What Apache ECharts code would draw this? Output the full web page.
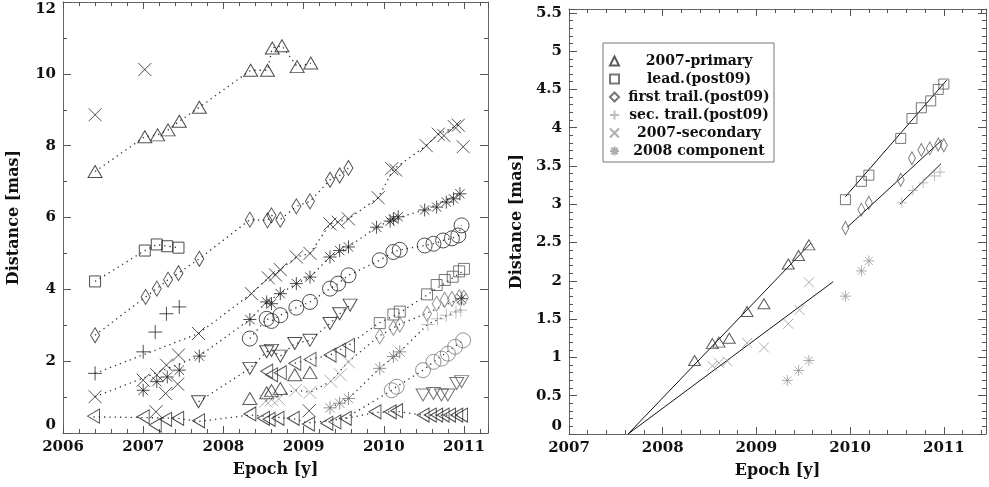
<!DOCTYPE html>
<html><head><meta charset="utf-8">
<script src="https://cdn.jsdelivr.net/npm/echarts@6/dist/echarts.min.js"></script>
<style>html,body{margin:0;padding:0;background:#fff}#c{width:989px;height:487px}</style>
</head><body><div id="c"></div>
<script>
// ---------- Right panel data (epoch [y], distance [mas]) ----------
const rPrimary   = [[2008.34,0.96],[2008.53,1.18],[2008.60,1.20],[2008.71,1.25],[2008.90,1.60],[2009.08,1.70],[2009.34,2.22],[2009.45,2.33],[2009.56,2.47]];
const rLead      = [[2009.95,3.06],[2010.12,3.30],[2010.20,3.38],[2010.54,3.86],[2010.66,4.12],[2010.76,4.26],[2010.86,4.35],[2010.94,4.50],[2011.00,4.57]];
const rFirst     = [[2009.95,2.69],[2010.12,2.93],[2010.20,3.02],[2010.54,3.32],[2010.66,3.60],[2010.76,3.71],[2010.85,3.73],[2010.94,3.78],[2011.00,3.77]];
const rSec       = [[2010.55,3.02],[2010.67,3.18],[2010.78,3.28],[2010.90,3.37],[2010.96,3.42]];
const rSecondary = [[2008.53,0.89],[2008.60,0.93],[2008.69,0.95],[2008.90,1.19],[2009.08,1.13],[2009.34,1.44],[2009.46,1.62],[2009.56,1.98]];
const r2008      = [[2009.33,0.70],[2009.45,0.83],[2009.56,0.96],[2009.95,1.80],[2010.12,2.13],[2010.20,2.26]];
// fitted lines (right panel)
const fitPrimary   = [[2007.63,0],[2009.58,2.49]];
const fitSecondary = [[2007.63,0],[2009.82,1.99]];
const fitLead      = [[2009.95,3.10],[2011.03,4.62]];
const fitFirst     = [[2009.97,2.70],[2010.98,3.84]];
const fitSec       = [[2010.53,3.00],[2010.97,3.53]];

// ---------- Left panel data ----------
const lTriTop   = [[2006.40,7.28],[2007.02,8.25],[2007.18,8.30],[2007.31,8.44],[2007.45,8.68],[2007.70,9.07],[2008.34,10.10],[2008.55,10.10],[2008.61,10.72],[2008.73,10.78],[2008.92,10.20],[2009.09,10.30]];
const lCrossTop = [[2006.40,8.86],[2007.02,10.12]];
const lSqEarly  = [[2006.40,4.22],[2007.02,5.08],[2007.17,5.25],[2007.30,5.20],[2007.44,5.16]];
const lDia      = [[2006.40,2.72],[2007.03,3.79],[2007.17,4.02],[2007.31,4.27],[2007.44,4.45],[2007.70,4.85],[2008.33,5.94],[2008.55,5.92],[2008.60,6.06],[2008.71,5.94],[2008.91,6.31],[2009.08,6.45],[2009.33,7.05],[2009.45,7.17],[2009.56,7.38]];
const lPlus     = [[2006.40,1.66],[2007.00,2.26],[2007.15,2.81],[2007.29,3.32],[2007.45,3.51]];
const lCross    = [[2006.40,1.01],[2007.00,1.47],[2007.17,1.62],[2007.29,1.89],[2007.44,2.17],[2007.28,1.10],[2007.43,1.36],[2007.16,0.59],[2007.69,2.77],[2008.35,3.88],[2008.56,4.32],[2008.65,4.40],[2008.71,4.55],[2008.91,4.90],[2009.08,5.00],[2009.07,0.62],[2009.33,5.82],[2009.43,5.87],[2009.56,5.96],[2009.93,6.55],[2010.10,7.36],[2010.15,7.32],[2010.53,8.00],[2010.68,8.32],[2010.75,8.28],[2010.88,8.53],[2010.93,8.57],[2010.99,7.97]];
const lStar     = [[2007.00,1.19],[2007.17,1.43],[2007.30,1.56],[2007.45,1.75],[2007.70,2.14],[2008.33,3.16],[2008.54,3.65],[2008.60,3.60],[2008.71,3.88],[2008.91,4.16],[2009.08,4.34],[2009.33,4.90],[2009.45,5.08],[2009.56,5.18],[2009.91,5.73],[2010.08,5.90],[2010.12,5.96],[2010.18,6.02],[2010.51,6.21],[2010.66,6.29],[2010.78,6.43],[2010.87,6.52],[2010.95,6.66],[2010.97,3.74]];
const lCirc     = [[2008.33,2.63],[2008.54,3.18],[2008.60,3.12],[2008.71,3.28],[2008.91,3.49],[2009.08,3.65],[2009.33,4.02],[2009.43,4.16],[2009.56,4.39],[2009.95,4.81],[2010.12,5.04],[2010.20,5.10],[2010.51,5.22],[2010.62,5.27],[2010.74,5.36],[2010.85,5.42],[2010.93,5.50],[2010.97,5.78]];
const lTriDown  = [[2007.69,0.87],[2008.33,1.80],[2008.54,2.26],[2008.60,2.30],[2008.71,2.14],[2008.89,2.49],[2009.08,2.58],[2009.33,3.05],[2009.45,3.32],[2009.58,3.56]];
const lTriLeftLow = [[2006.38,0.47],[2007.00,0.45],[2007.15,0.22],[2007.28,0.38],[2007.43,0.41],[2007.69,0.34],[2008.33,0.53],[2008.50,0.41],[2008.57,0.38],[2008.68,0.41],[2008.87,0.41],[2009.06,0.25],[2009.29,0.27],[2009.39,0.31],[2009.52,0.41],[2009.89,0.59],[2010.08,0.59],[2010.16,0.62],[2010.49,0.50],[2010.58,0.50],[2010.66,0.50],[2010.74,0.50],[2010.82,0.50],[2010.91,0.50],[2010.97,0.50]];
const lTriLeftMid = [[2008.54,1.72],[2008.60,1.62],[2008.71,1.68],[2008.89,1.94],[2009.08,2.05],[2009.33,2.17],[2009.45,2.31],[2009.56,2.44]];
const lTriUpLow   = [[2008.33,0.96],[2008.54,1.12],[2008.60,1.18],[2008.71,1.24],[2008.89,1.62],[2009.08,1.68]];
const lCircGray   = [[2010.10,1.19],[2010.16,1.29],[2010.49,1.75],[2010.62,1.98],[2010.72,2.07],[2010.80,2.21],[2010.89,2.40],[2010.99,2.58]];
const lTriDownGray= [[2010.49,1.06],[2010.62,1.10],[2010.72,1.06],[2010.80,1.06],[2010.91,1.38],[2010.97,1.43]];
// dotted trajectories (left panel)
const trackD = [[2006.40,1.66],[2007.69,2.77],[2008.35,3.88],[2008.56,4.32],[2008.71,4.55],[2008.91,4.90],[2009.08,5.00],[2009.33,5.82],[2009.56,5.96],[2009.93,6.55],[2010.12,7.34],[2010.53,8.00],[2010.68,8.32],[2010.93,8.57]];
const trackE = [[2006.40,1.01],[2007.70,2.14],[2008.33,3.16],[2008.54,3.65],[2008.71,3.88],[2008.91,4.16],[2009.08,4.34],[2009.33,4.90],[2009.56,5.18],[2009.91,5.73],[2010.12,5.96],[2010.51,6.21],[2010.95,6.66]];
const trackI = [[2006.38,0.45],[2007.00,0.43],[2007.43,0.41],[2007.69,0.32],[2008.33,0.50],[2008.87,0.40],[2009.06,0.28],[2009.52,0.40],[2009.89,0.57],[2010.16,0.60],[2010.49,0.50],[2010.97,0.50]];
const trackH = [[2008.89,1.94],[2009.08,2.05],[2009.33,2.17],[2009.56,2.44],[2009.93,3.05],[2010.18,3.32],[2010.53,3.83],[2010.99,4.51]];
const trackJ = [[2008.53,0.90],[2008.90,1.20],[2009.08,1.13],[2009.34,1.44],[2009.56,1.99],[2009.95,2.71],[2010.20,3.03],[2010.54,3.34],[2011.00,3.79]];
const trackK = [[2009.52,0.41],[2010.10,1.19],[2010.16,1.29],[2010.49,1.75],[2010.62,1.98],[2010.99,2.58]];
const trackL = [[2009.33,0.70],[2009.56,0.96],[2009.95,1.80],[2010.20,2.26],[2010.55,3.03],[2010.97,3.45]];

const legendNames = ['2007-primary','lead.(post09)','first trail.(post09)','sec. trail.(post09)','2007-secondary','2008 component'];
const xTicksLeft = [2006, 2011.3];
const xTicksRight = [2007, 2011.45];

// ---------- helpers ----------
const SYM = {
  plus:  'path://M-5,0L5,0M0,-5L0,5',
  cross: 'path://M-5,-5L5,5M-5,5L5,-5',
  star:  'path://M-5,0L5,0M0,-5L0,5M-3.6,-3.6L3.6,3.6M-3.6,3.6L3.6,-3.6'
};
const FONT = 'DejaVu Serif';
function pts(name, data, sym, size, color, g, rot) {
  return {type:'scatter', name:name, data:data, symbol:sym, symbolSize:size, symbolRotate:rot||0,
    xAxisIndex:g*2, yAxisIndex:g*2, silent:true, z:3, animation:false,
    itemStyle:{color:'rgba(0,0,0,0)', borderColor:color, borderWidth:1}};
}
function dotted(data) {
  return {type:'line', data:data, symbol:'none', xAxisIndex:0, yAxisIndex:0, silent:true, z:2, animation:false,
    lineStyle:{type:[1.3,4], width:1.3, color:'#333'}};
}
function fit(data) {
  return {type:'line', data:data, symbol:'none', xAxisIndex:2, yAxisIndex:2, silent:true, z:2, animation:false,
    lineStyle:{type:'solid', width:1, color:'#111'}};
}
const lblFont = {fontFamily:FONT, fontWeight:'bold', fontSize:15, color:'#111'};
const nameFont = {fontFamily:FONT, fontWeight:'bold', fontSize:16, color:'#111'};
const lineCol = {color:'#666', width:1};
const tickCol = {color:'#555', width:1};
const isInt = v => Math.abs(v - Math.round(v)) < 1e-6;

function xAx(g, ext, pos) {
  const bottom = pos === 'bottom';
  return {gridIndex:g, type:'value', min:ext[0], max:ext[1], interval:1, position:pos,
    axisLine:{show:true, onZero:false, lineStyle:lineCol},
    axisTick:{show:true, inside:true, length:7, lineStyle:tickCol},
    minorTick:{show:true, splitNumber:5, length:4, lineStyle:tickCol},
    splitLine:{show:false},
    axisLabel:{show:bottom, margin:7, ...lblFont, formatter: v => isInt(v) ? String(Math.round(v)) : ''},
    name: bottom ? 'Epoch [y]' : '', nameLocation:'middle', nameGap:29, nameTextStyle:nameFont};
}
function yAx(g, min, max, interval, minor, pos, fmt, gap) {
  const left = pos === 'left';
  return {gridIndex:g, type:'value', min:min, max:max, interval:interval, position:pos,
    axisLine:{show:true, onZero:false, lineStyle:lineCol},
    axisTick:{show:true, inside:true, length:8, lineStyle:tickCol},
    minorTick:{show:true, splitNumber:minor, length:4, lineStyle:tickCol},
    splitLine:{show:false},
    axisLabel:{show:left, margin:7, ...lblFont, formatter:fmt,
      verticalAlignMinLabel:'bottom', verticalAlignMaxLabel: g===0 ? 'top' : 'middle'},
    name: left ? 'Distance [mas]' : '', nameLocation:'middle', nameGap:gap, nameRotate:90, nameTextStyle:nameFont};
}

const BLK = '#222', G1 = '#555', G2 = '#777', G3 = '#999', G4 = '#aaa';

const series = [
  // left dotted trajectories
  dotted(lTriTop), dotted(lSqEarly), dotted(lDia), dotted(trackD), dotted(trackE), dotted(lCirc),
  dotted(lTriDown), dotted(trackI), dotted(trackH), dotted(trackJ), dotted(trackK), dotted(trackL),
  // left markers
  pts('L-tri-top', lTriTop, 'triangle', [14,12], BLK, 0),
  pts('L-x-top', lCrossTop, SYM.cross, 13, BLK, 0),
  pts('L-sq', lSqEarly, 'rect', 11, BLK, 0),
  pts('L-dia', lDia, 'diamond', [9,15], BLK, 0),
  pts('L-plus', lPlus, SYM.plus, 14, BLK, 0),
  pts('L-x', lCross, SYM.cross, 13, BLK, 0),
  pts('L-star', lStar, SYM.star, 13, BLK, 0),
  pts('L-circ', lCirc, 'circle', 15, BLK, 0),
  pts('L-tdown', lTriDown, 'triangle', [14,12], BLK, 0, 180),
  pts('L-tleft', lTriLeftLow, 'triangle', [14,12], BLK, 0, 90),
  pts('L-tleft2', lTriLeftMid, 'triangle', [14,12], '#333', 0, 90),
  pts('L-tup2', lTriUpLow, 'triangle', [14,12], '#333', 0),
  pts('L-lead', rLead, 'rect', 11, G1, 0),
  pts('L-first', rFirst, 'diamond', [9,15], G2, 0),
  pts('L-sec', rSec, SYM.plus, 13, G4, 0),
  pts('L-secondary', rSecondary, SYM.cross, 13, G3, 0),
  pts('L-2008', r2008, SYM.star, 13, G2, 0),
  pts('L-circ-g', lCircGray, 'circle', 15, G2, 0),
  pts('L-tdown-g', lTriDownGray, 'triangle', [14,12], G1, 0, 180),
  // right fitted lines
  fit(fitPrimary), fit(fitSecondary), fit(fitLead), fit(fitFirst), fit(fitSec),
  // right markers
  pts(legendNames[0], rPrimary, 'triangle', [12,10], '#333', 1),
  pts(legendNames[1], rLead, 'rect', 10, G1, 1),
  pts(legendNames[2], rFirst, 'diamond', [7,13], G1, 1),
  pts(legendNames[3], rSec, SYM.plus, 10, G4, 1),
  pts(legendNames[4], rSecondary, SYM.cross, 10, G3, 1),
  pts(legendNames[5], r2008, SYM.star, 11, G3, 1)
];

const option = {
  animation:false,
  backgroundColor:'#fff',
  grid:[
    {left:63, top:2, width:425, height:431},
    {left:569, top:9, width:419, height:425}
  ],
  xAxis:[
    xAx(0, xTicksLeft, 'bottom'), xAx(0, xTicksLeft, 'top'),
    xAx(1, xTicksRight, 'bottom'), xAx(1, xTicksRight, 'top')
  ],
  yAxis:[
    yAx(0, 0, 12, 2, 2, 'left', v => String(v), 41),
    yAx(0, 0, 12, 2, 2, 'right', v => String(v), 41),
    yAx(1, 0, 5.55, 0.5, 5, 'left', v => (Math.abs(v*2 - Math.round(v*2)) < 1e-6 ? (isInt(v) ? String(Math.round(v)) : v.toFixed(1)) : ''), 44),
    yAx(1, 0, 5.55, 0.5, 5, 'right', v => '', 44)
  ],
  legend:{
    data:legendNames, orient:'vertical', left:603, top:43, padding:[11,0,4,6],
    itemWidth:9, itemHeight:9, itemGap:4, borderColor:'#777', borderWidth:1,
    selectedMode:false,
    formatter: n => '{a|' + n + '}',
    textStyle:{rich:{a:{width:150, align:'center', fontFamily:FONT, fontWeight:'bold', fontSize:14, lineHeight:14, color:'#111'}}}
  },
  series:series
};
const chart = echarts.init(document.getElementById('c'), null, {renderer:'canvas'});
chart.setOption(option);
</script>
</body></html>
